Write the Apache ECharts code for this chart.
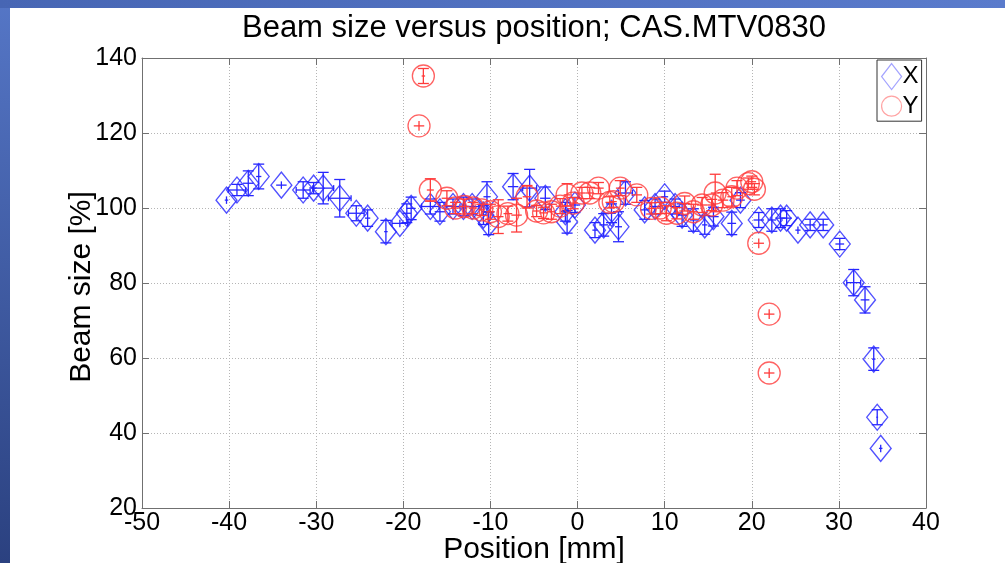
<!DOCTYPE html>
<html>
<head>
<meta charset="utf-8">
<script src="https://cdn.jsdelivr.net/npm/echarts@6/dist/echarts.min.js"></script>
<style>
html,body{margin:0;padding:0;background:#fff;}
#chart{width:1005px;height:563px;}
</style>
</head>
<body>
<div id="chart"></div>
<script>
// ---- Data ----
const titleText = 'Beam size versus position; CAS.MTV0830';
const xAxisName = 'Position [mm]';
const yAxisName = 'Beam size [%]';
const seriesNames = ['X', 'Y'];

// X series: position [mm], beam size [%], x error [mm], y error [%]
const xPos  = [-40.3,-39.1,-37.8,-36.6,-34.0,-31.5,-30.3,-29.2,-27.3,-25.4,-24.1,-22.0,-20.4,-19.6,-19.1,
               -16.9,-15.8,-14.3,-13.1,-12.1,-10.8,-10.4,-10.2,-7.4,-5.5,-3.7,-1.4,-1.2,-0.3,2.0,3.0,
               3.9,4.7,5.5,7.7,8.9,10.0,11.2,12.0,13.3,14.6,15.6,17.7,18.7,20.8,22.3,23.3,24.0,25.3,
               26.7,28.2,30.1,31.7,33.0,34.0,34.4,34.8];
const xSize = [102.1,104.8,106.6,108.4,106.1,104.8,105.3,105.3,102.6,98.6,97.3,93.7,95.9,98.6,99.9,
               100.4,99.0,100.4,100.4,100.4,98.1,103.0,95.9,105.7,105.3,102.6,99.0,96.3,100.8,94.1,95.5,
               98.6,95.0,104.0,99.5,100.4,103.0,100.4,98.1,96.8,95.5,97.7,95.9,102.1,96.8,96.8,97.3,97.3,94.1,
               95.5,95.5,90.4,80.1,75.5,59.7,44.2,35.9];
const xErrX = [0.2,1.0,0.6,0.3,0.6,0.8,0.3,1.2,1.3,0.9,0.3,0.2,0.9,0.5,0.5,
               1.0,0.6,0.8,0.6,0.8,0.5,0.4,0.3,0.6,0.8,0.6,0.5,0.4,0.6,0.3,0.5,
               0.5,0.4,0.8,0.5,0.6,0.4,0.6,0.5,0.4,0.3,0.6,0.5,0.5,0.6,0.5,0.6,0.6,0.3,
               0.6,0.5,0.5,0.8,0.5,0.2,0.1,0.2];
const xErrY = [1.0,1.5,3.3,3.3,1.0,2.2,1.5,4.2,5.0,2.0,2.2,3.0,1.0,2.5,3.0,
               2.0,2.5,2.0,2.5,2.0,2.5,4.0,3.0,3.5,5.0,3.0,2.5,3.0,2.0,2.0,3.0,
               2.5,4.0,3.0,2.5,2.0,1.5,2.0,3.0,3.0,2.5,2.5,3.0,2.0,2.0,3.0,2.5,2.0,1.0,
               1.5,1.5,1.5,3.5,3.5,3.0,2.0,1.0];

// Y series
const yPos  = [-18.2,-17.7,-16.9,-15.0,-14.0,-13.0,-12.0,-11.0,-10.0,-9.1,-8.0,-7.0,-5.8,-4.7,-3.9,-3.0,
               -2.0,-1.2,-0.5,0.5,1.4,2.4,3.7,4.1,4.9,6.8,8.5,9.5,10.2,11.4,12.3,13.3,14.3,15.4,15.8,
               16.7,17.7,18.3,19.6,20.0,20.3,20.8,22.0,22.0];
const ySize = [121.9,135.2,104.8,102.6,100.0,100.4,100.0,99.5,99.0,97.7,98.5,98.1,103.0,99.2,98.7,99.0,
               100.5,103.5,101.3,104.0,104.0,105.3,101.5,101.7,105.3,103.5,99.9,100.0,98.6,98.6,101.2,99.0,100.8,100.8,104.0,
               102.1,103.0,105.3,106.5,107.0,105.0,90.6,71.7,56.0];
const yErrX = [0.6,0.2,0.4,0.6,0.5,0.6,0.5,0.4,0.5,0.6,0.5,0.6,0.5,0.4,0.5,0.4,
               0.5,0.4,0.5,0.4,0.5,0.6,0.5,0.4,0.5,0.6,0.5,0.4,0.5,0.4,0.6,0.5,0.6,0.5,0.5,
               0.6,0.5,0.5,0.4,0.5,0.5,0.6,0.6,0.6];
const yErrY = [1.3,2.0,3.0,2.0,1.5,2.0,1.5,1.5,2.0,4.5,2.0,4.5,3.0,1.5,1.5,2.0,
               2.0,3.0,1.5,1.5,1.5,1.5,1.5,1.5,2.0,2.0,1.5,1.5,2.0,1.5,2.0,2.0,2.0,1.5,5.0,
               2.0,2.5,2.0,1.5,1.5,1.5,1.3,1.3,1.3];

const xTicks = [-50,-40,-30,-20,-10,0,10,20,30,40];
const yTicks = [20,40,60,80,100,120,140];

// ---- Styles ----
const blue = '#2626ff';
const red = '#ff3b3b';
const FONT = 'Liberation Sans, Arial, Helvetica, sans-serif';

function pack(a,b,c,d){ return a.map((v,i)=>[v,b[i],c[i],d[i]]); }
const xData = pack(xPos,xSize,xErrX,xErrY);
const yData = pack(yPos,ySize,yErrX,yErrY);

function errRender(color){
  return function(params, api){
    const x=api.value(0), y=api.value(1), ex=api.value(2), ey=api.value(3);
    const a=api.coord([x,y-ey]), b=api.coord([x,y+ey]);
    const c=api.coord([x-ex,y]), d=api.coord([x+ex,y]);
    const cw=5.5, ch=3;
    const st={stroke:color,lineWidth:1.3,fill:null};
    const L=(x1,y1,x2,y2)=>({type:'line',shape:{x1,y1,x2,y2},style:st});
    const kids=[L(a[0],a[1],b[0],b[1]), L(c[0],c[1],d[0],d[1])];
    if (Math.abs(a[1]-b[1])>11){ kids.push(L(a[0]-cw,a[1],a[0]+cw,a[1]), L(b[0]-cw,b[1],b[0]+cw,b[1])); }
    if (Math.abs(d[0]-c[0])>12){ kids.push(L(c[0],c[1]-ch,c[0],c[1]+ch), L(d[0],d[1]-ch,d[0],d[1]+ch)); }
    return {type:'group',children:kids};
  };
}

const axisLineStyle = {color:'#707070',width:1};
const chart = echarts.init(document.getElementById('chart'), null, {renderer:'canvas'});
chart.setOption({
  animation:false,
  backgroundColor:'#ffffff',
  grid:{left:142,right:79,top:58,bottom:55,containLabel:false},
  graphic:[
    {type:'rect',shape:{x:0,y:0,width:10,height:563},silent:true,z:-10,
     style:{fill:new echarts.graphic.LinearGradient(0,0,0,1,[{offset:0,color:'#5576c6'},{offset:1,color:'#2b4180'}])}},
    {type:'rect',shape:{x:0,y:0,width:1005,height:8},silent:true,z:-10,
     style:{fill:new echarts.graphic.LinearGradient(0,0,1,0,[{offset:0,color:'#4766b4'},{offset:1,color:'#5a7bcc'}])}},
    {type:'text',x:534,y:13,style:{text:titleText,font:'31px '+FONT,fill:'#000',textAlign:'center',textVerticalAlign:'top'}},
    {type:'text',x:534,y:535,style:{text:xAxisName,font:'30px '+FONT,fill:'#000',textAlign:'center',textVerticalAlign:'top'}},
    {type:'text',x:82,y:287,rotation:Math.PI/2,style:{text:yAxisName,font:'30px '+FONT,fill:'#000',textAlign:'center',textVerticalAlign:'middle'}}
  ],
  legend:{
    left:877, top:60, orient:'vertical', itemGap:4, itemWidth:20, itemHeight:26, padding:[3,3,3,4],
    borderColor:'#333', borderWidth:1, backgroundColor:'#fff',
    textStyle:{fontSize:24,fontFamily:FONT,color:'#000',padding:[0,0,0,-4]},
    data:[
      {name:'X',icon:'diamond',itemStyle:{color:'rgba(0,0,0,0)',borderColor:'#8c8cff',borderWidth:1.2}},
      {name:'Y',icon:'circle',itemStyle:{color:'rgba(0,0,0,0)',borderColor:'#ff8c8c',borderWidth:1.2}}
    ]
  },
  xAxis:[
    {type:'value',min:-50,max:40,interval:10,position:'bottom',
     axisLine:{show:true,onZero:false,lineStyle:axisLineStyle},
     axisTick:{show:true,inside:true,length:7,lineStyle:axisLineStyle},
     splitLine:{show:true,lineStyle:{color:'#b5b5b5',type:[1,2],width:1}},
     axisLabel:{fontSize:25,fontFamily:FONT,color:'#000',margin:3}},
    {type:'value',min:-50,max:40,interval:10,position:'top',
     axisLine:{show:true,onZero:false,lineStyle:axisLineStyle},
     axisTick:{show:true,inside:true,length:7,lineStyle:axisLineStyle},
     splitLine:{show:false},axisLabel:{show:false}}
  ],
  yAxis:[
    {type:'value',min:20,max:140,interval:20,position:'left',
     axisLine:{show:true,onZero:false,lineStyle:axisLineStyle},
     axisTick:{show:true,inside:true,length:7,lineStyle:axisLineStyle},
     splitLine:{show:true,lineStyle:{color:'#b5b5b5',type:[1,2],width:1}},
     axisLabel:{fontSize:25,fontFamily:FONT,color:'#000',margin:5}},
    {type:'value',min:20,max:140,interval:20,position:'right',
     axisLine:{show:true,onZero:false,lineStyle:axisLineStyle},
     axisTick:{show:true,inside:true,length:7,lineStyle:axisLineStyle},
     splitLine:{show:false},axisLabel:{show:false}}
  ],
  series:[
    {name:'X',type:'scatter',data:xData,symbol:'diamond',symbolSize:[21,26],
     itemStyle:{color:'rgba(0,0,0,0)',borderColor:blue,borderWidth:1.3},z:2},
    {name:'Xerr',type:'custom',data:xData,renderItem:errRender(blue),z:2,silent:true},
    {name:'Y',type:'scatter',data:yData,symbol:'circle',symbolSize:22,
     itemStyle:{color:'rgba(0,0,0,0)',borderColor:red,borderWidth:1.3},z:3},
    {name:'Yerr',type:'custom',data:yData,renderItem:errRender(red),z:3,silent:true}
  ]
});
</script>
</body>
</html>
